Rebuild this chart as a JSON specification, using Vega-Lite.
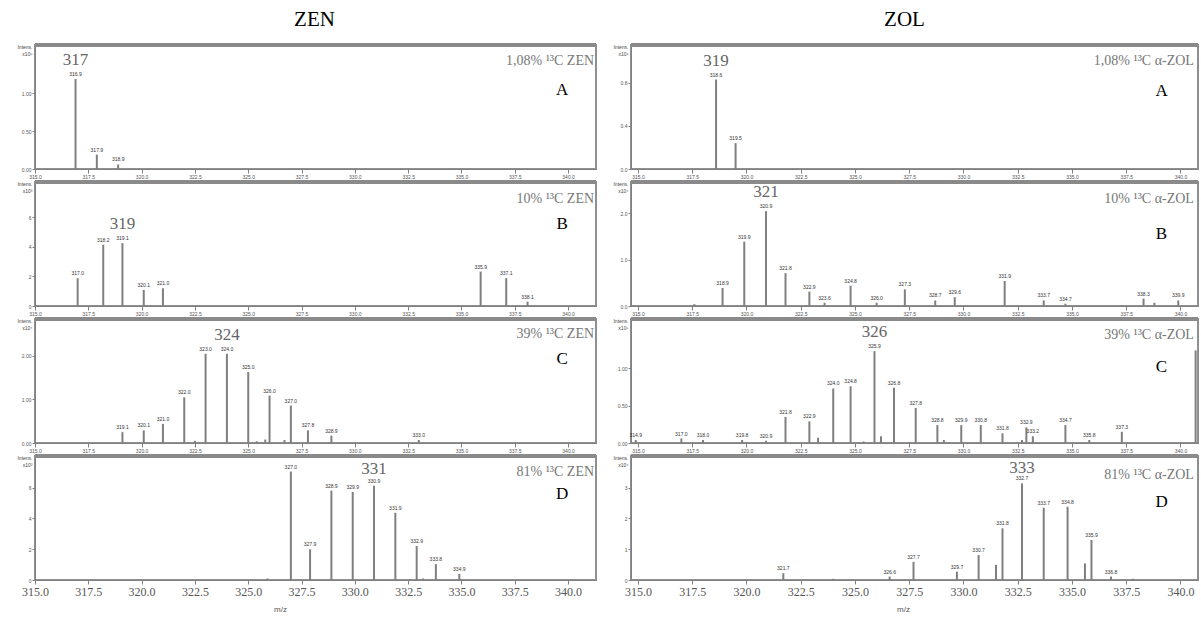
{
  "$schema": "https://vega.github.io/schema/vega-lite/v6.json",
  "background": "white",
  "padding": {"left": 15, "top": 8, "right": 0, "bottom": 0},
  "datasets": {
    "peaks": [
      {"panel": "ZEN A", "mz": 316.9, "intensity": 1.19, "tag": "316.9", "major": "317"},
      {"panel": "ZEN A", "mz": 317.9, "intensity": 0.19, "tag": "317.9"},
      {"panel": "ZEN A", "mz": 318.9, "intensity": 0.06, "tag": "318.9"},

      {"panel": "ZEN B", "mz": 317.0, "intensity": 1.88, "tag": "317.0"},
      {"panel": "ZEN B", "mz": 318.2, "intensity": 4.15, "tag": "318.2"},
      {"panel": "ZEN B", "mz": 319.1, "intensity": 4.26, "tag": "319.1", "major": "319"},
      {"panel": "ZEN B", "mz": 320.1, "intensity": 1.09, "tag": "320.1"},
      {"panel": "ZEN B", "mz": 321.0, "intensity": 1.2, "tag": "321.0"},
      {"panel": "ZEN B", "mz": 335.9, "intensity": 2.33, "tag": "335.9"},
      {"panel": "ZEN B", "mz": 337.1, "intensity": 1.88, "tag": "337.1"},
      {"panel": "ZEN B", "mz": 338.1, "intensity": 0.29, "tag": "338.1"},

      {"panel": "ZEN C", "mz": 319.1, "intensity": 0.25, "tag": "319.1"},
      {"panel": "ZEN C", "mz": 320.1, "intensity": 0.29, "tag": "320.1"},
      {"panel": "ZEN C", "mz": 321.0, "intensity": 0.44, "tag": "321.0"},
      {"panel": "ZEN C", "mz": 322.0, "intensity": 1.05, "tag": "322.0"},
      {"panel": "ZEN C", "mz": 322.5, "intensity": 0.05},
      {"panel": "ZEN C", "mz": 323.0, "intensity": 2.05, "tag": "323.0"},
      {"panel": "ZEN C", "mz": 324.0, "intensity": 2.05, "tag": "324.0", "major": "324"},
      {"panel": "ZEN C", "mz": 325.0, "intensity": 1.63, "tag": "325.0"},
      {"panel": "ZEN C", "mz": 325.4, "intensity": 0.04},
      {"panel": "ZEN C", "mz": 325.8, "intensity": 0.08},
      {"panel": "ZEN C", "mz": 326.0, "intensity": 1.09, "tag": "326.0"},
      {"panel": "ZEN C", "mz": 326.7, "intensity": 0.07},
      {"panel": "ZEN C", "mz": 327.0, "intensity": 0.86, "tag": "327.0"},
      {"panel": "ZEN C", "mz": 327.8, "intensity": 0.29, "tag": "327.8"},
      {"panel": "ZEN C", "mz": 328.9, "intensity": 0.17, "tag": "328.9"},
      {"panel": "ZEN C", "mz": 333.0, "intensity": 0.07, "tag": "333.0"},

      {"panel": "ZEN D", "mz": 325.9, "intensity": 0.1},
      {"panel": "ZEN D", "mz": 327.0, "intensity": 7.05, "tag": "327.0"},
      {"panel": "ZEN D", "mz": 327.9, "intensity": 2.0, "tag": "327.9"},
      {"panel": "ZEN D", "mz": 328.9, "intensity": 5.81, "tag": "328.9"},
      {"panel": "ZEN D", "mz": 329.9, "intensity": 5.72, "tag": "329.9"},
      {"panel": "ZEN D", "mz": 330.9, "intensity": 6.13, "tag": "330.9", "major": "331"},
      {"panel": "ZEN D", "mz": 331.9, "intensity": 4.37, "tag": "331.9"},
      {"panel": "ZEN D", "mz": 332.9, "intensity": 2.21, "tag": "332.9"},
      {"panel": "ZEN D", "mz": 333.2, "intensity": 0.1},
      {"panel": "ZEN D", "mz": 333.8, "intensity": 1.03, "tag": "333.8"},
      {"panel": "ZEN D", "mz": 334.9, "intensity": 0.39, "tag": "334.9"},

      {"panel": "ZOL A", "mz": 318.6, "intensity": 0.83, "tag": "318.6", "major": "319"},
      {"panel": "ZOL A", "mz": 319.5, "intensity": 0.24, "tag": "319.5"},

      {"panel": "ZOL B", "mz": 317.6, "intensity": 0.04},
      {"panel": "ZOL B", "mz": 318.9, "intensity": 0.39, "tag": "318.9"},
      {"panel": "ZOL B", "mz": 319.9, "intensity": 1.39, "tag": "319.9"},
      {"panel": "ZOL B", "mz": 320.9, "intensity": 2.05, "tag": "320.9", "major": "321"},
      {"panel": "ZOL B", "mz": 321.8, "intensity": 0.71, "tag": "321.8"},
      {"panel": "ZOL B", "mz": 322.9, "intensity": 0.31, "tag": "322.9"},
      {"panel": "ZOL B", "mz": 323.6, "intensity": 0.07, "tag": "323.6"},
      {"panel": "ZOL B", "mz": 324.8, "intensity": 0.44, "tag": "324.8"},
      {"panel": "ZOL B", "mz": 326.0, "intensity": 0.07, "tag": "326.0"},
      {"panel": "ZOL B", "mz": 327.3, "intensity": 0.36, "tag": "327.3"},
      {"panel": "ZOL B", "mz": 328.7, "intensity": 0.12, "tag": "328.7"},
      {"panel": "ZOL B", "mz": 329.6, "intensity": 0.19, "tag": "329.6"},
      {"panel": "ZOL B", "mz": 331.9, "intensity": 0.54, "tag": "331.9"},
      {"panel": "ZOL B", "mz": 333.7, "intensity": 0.12, "tag": "333.7"},
      {"panel": "ZOL B", "mz": 334.7, "intensity": 0.05, "tag": "334.7"},
      {"panel": "ZOL B", "mz": 338.3, "intensity": 0.16, "tag": "338.3"},
      {"panel": "ZOL B", "mz": 338.8, "intensity": 0.07},
      {"panel": "ZOL B", "mz": 339.9, "intensity": 0.12, "tag": "339.9"},

      {"panel": "ZOL C", "mz": 314.9, "intensity": 0.04, "tag": "314.9"},
      {"panel": "ZOL C", "mz": 317.0, "intensity": 0.06, "tag": "317.0"},
      {"panel": "ZOL C", "mz": 318.0, "intensity": 0.04, "tag": "318.0"},
      {"panel": "ZOL C", "mz": 319.8, "intensity": 0.04, "tag": "319.8"},
      {"panel": "ZOL C", "mz": 320.9, "intensity": 0.03, "tag": "320.9"},
      {"panel": "ZOL C", "mz": 321.8, "intensity": 0.35, "tag": "321.8"},
      {"panel": "ZOL C", "mz": 322.9, "intensity": 0.29, "tag": "322.9"},
      {"panel": "ZOL C", "mz": 323.3, "intensity": 0.07},
      {"panel": "ZOL C", "mz": 324.0, "intensity": 0.73, "tag": "324.0"},
      {"panel": "ZOL C", "mz": 324.8, "intensity": 0.76, "tag": "324.8"},
      {"panel": "ZOL C", "mz": 325.4, "intensity": 0.02},
      {"panel": "ZOL C", "mz": 325.9, "intensity": 1.23, "tag": "325.9", "major": "326"},
      {"panel": "ZOL C", "mz": 326.2, "intensity": 0.09},
      {"panel": "ZOL C", "mz": 326.8, "intensity": 0.74, "tag": "326.8"},
      {"panel": "ZOL C", "mz": 327.8, "intensity": 0.47, "tag": "327.8"},
      {"panel": "ZOL C", "mz": 328.8, "intensity": 0.24, "tag": "328.8"},
      {"panel": "ZOL C", "mz": 329.1, "intensity": 0.04},
      {"panel": "ZOL C", "mz": 329.9, "intensity": 0.24, "tag": "329.9"},
      {"panel": "ZOL C", "mz": 330.8, "intensity": 0.24, "tag": "330.8"},
      {"panel": "ZOL C", "mz": 331.8, "intensity": 0.13, "tag": "331.8"},
      {"panel": "ZOL C", "mz": 332.7, "intensity": 0.04},
      {"panel": "ZOL C", "mz": 332.9, "intensity": 0.21, "tag": "332.9"},
      {"panel": "ZOL C", "mz": 333.2, "intensity": 0.09, "tag": "333.2"},
      {"panel": "ZOL C", "mz": 334.7, "intensity": 0.24, "tag": "334.7"},
      {"panel": "ZOL C", "mz": 335.8, "intensity": 0.04, "tag": "335.8"},
      {"panel": "ZOL C", "mz": 337.3, "intensity": 0.15, "tag": "337.3"},
      {"panel": "ZOL C", "mz": 340.7, "intensity": 1.24},

      {"panel": "ZOL D", "mz": 321.7, "intensity": 0.22, "tag": "321.7"},
      {"panel": "ZOL D", "mz": 324.0, "intensity": 0.04},
      {"panel": "ZOL D", "mz": 326.6, "intensity": 0.11, "tag": "326.6"},
      {"panel": "ZOL D", "mz": 327.7, "intensity": 0.59, "tag": "327.7"},
      {"panel": "ZOL D", "mz": 329.7, "intensity": 0.27, "tag": "329.7"},
      {"panel": "ZOL D", "mz": 330.7, "intensity": 0.81, "tag": "330.7"},
      {"panel": "ZOL D", "mz": 331.5, "intensity": 0.49},
      {"panel": "ZOL D", "mz": 331.8, "intensity": 1.68, "tag": "331.8"},
      {"panel": "ZOL D", "mz": 332.7, "intensity": 3.14, "tag": "332.7", "major": "333"},
      {"panel": "ZOL D", "mz": 333.7, "intensity": 2.35, "tag": "333.7"},
      {"panel": "ZOL D", "mz": 334.8, "intensity": 2.38, "tag": "334.8"},
      {"panel": "ZOL D", "mz": 335.6, "intensity": 0.54},
      {"panel": "ZOL D", "mz": 335.9, "intensity": 1.3, "tag": "335.9"},
      {"panel": "ZOL D", "mz": 336.8, "intensity": 0.11, "tag": "336.8"},
      {"panel": "ZOL D", "mz": 337.8, "intensity": 0.04}
    ],
    "notes": [
      {"panel": "ZEN A", "desc": "1,08% ¹³C ZEN", "letter": "A"},
      {"panel": "ZEN B", "desc": "10% ¹³C ZEN", "letter": "B"},
      {"panel": "ZEN C", "desc": "39% ¹³C ZEN", "letter": "C"},
      {"panel": "ZEN D", "desc": "81% ¹³C ZEN", "letter": "D"},
      {"panel": "ZOL A", "desc": "1,08% ¹³C α-ZOL", "letter": "A"},
      {"panel": "ZOL B", "desc": "10% ¹³C α-ZOL", "letter": "B"},
      {"panel": "ZOL C", "desc": "39% ¹³C α-ZOL", "letter": "C"},
      {"panel": "ZOL D", "desc": "81% ¹³C α-ZOL", "letter": "D"}
    ]
  },
  "spacing": 12,
  "hconcat": [
    {
      "title": {"text": "ZEN", "font": "Liberation Serif", "fontSize": 21, "fontWeight": "normal", "color": "#000", "anchor": "middle", "offset": 12, "dx": 7},
      "spacing": 13,
      "bounds": "flush",
      "vconcat": [
        {
          "width": 561, "height": 124,
          "resolve": {"axis": {"x": "independent"}},
          "layer": [
            {"data": {"name": "peaks"}, "transform": [{"filter": "datum.panel === 'ZEN A'"}],
             "mark": {"type": "rule", "color": "#7f7f7f", "strokeWidth": 2},
             "encoding": {
               "x": {"field": "mz", "type": "quantitative", "scale": {"domain": [315, 341.31], "nice": false, "zero": false},
                     "axis": {"title": null, "values": [315, 317.5, 320, 322.5, 325, 327.5, 330, 332.5, 335, 337.5, 340], "format": ".1f", "labelFontSize": 5, "labelPadding": 1, "labelDx": 3, "labelFlush": false, "labelOverlap": false, "tickSize": 4}},
               "y": {"field": "intensity", "type": "quantitative", "scale": {"domain": [0, 1.64], "nice": false},
                     "axis": {"title": ["Intens.", "x10⁵"], "titleAngle": 0, "titleAlign": "right", "titleBaseline": "top", "titleX": -3, "titleY": -1, "titleFontSize": 5, "titleFontWeight": "normal", "titleColor": "#444", "values": [0, 0.25, 0.5, 0.75, 1, 1.25], "format": ".2f", "labelFontSize": 5, "labelPadding": 1, "tickSize": 3}},
               "y2": {"datum": 0}
             }},
            {"data": {"name": "peaks"}, "transform": [{"filter": "datum.panel === 'ZEN A' && datum.tag != null"}],
             "mark": {"type": "text", "fontSize": 5, "baseline": "bottom", "dy": -2, "color": "#333"},
             "encoding": {"x": {"field": "mz", "type": "quantitative", "axis": {"title": null, "values": [315,315.5,316,316.5,317,317.5,318,318.5,319,319.5,320,320.5,321,321.5,322,322.5,323,323.5,324,324.5,325,325.5,326,326.5,327,327.5,328,328.5,329,329.5,330,330.5,331,331.5,332,332.5,333,333.5,334,334.5,335,335.5,336,336.5,337,337.5,338,338.5,339,339.5,340,340.5,341], "labels": false, "domain": false, "tickSize": 2}}, "y": {"field": "intensity", "type": "quantitative"}, "text": {"field": "tag"}}},
            {"data": {"name": "peaks"}, "transform": [{"filter": "datum.panel === 'ZEN A' && datum.major != null"}],
             "mark": {"type": "text", "font": "Liberation Serif", "fontSize": 17, "baseline": "middle", "dy": -19, "color": "#666"},
             "encoding": {"x": {"field": "mz", "type": "quantitative", "axis": null}, "y": {"field": "intensity", "type": "quantitative"}, "text": {"field": "major"}}},
            {"data": {"name": "notes"}, "transform": [{"filter": "datum.panel === 'ZEN A'"}],
             "mark": {"type": "rule", "color": "#8a8a8a", "strokeWidth": 4},
             "encoding": {"y": {"datum": 1.64, "type": "quantitative"}}},
            {"data": {"name": "notes"}, "transform": [{"filter": "datum.panel === 'ZEN A'"}],
             "mark": {"type": "text", "font": "Liberation Serif", "fontSize": 14, "align": "right", "baseline": "middle", "color": "#777"},
             "encoding": {"x": {"datum": 341.22, "type": "quantitative", "axis": null}, "y": {"datum": 1.428, "type": "quantitative"}, "text": {"field": "desc"}}},
            {"data": {"name": "notes"}, "transform": [{"filter": "datum.panel === 'ZEN A'"}],
             "mark": {"type": "text", "font": "Liberation Serif", "fontSize": 17, "align": "center", "baseline": "middle", "color": "#000"},
             "encoding": {"x": {"datum": 339.72, "type": "quantitative", "axis": null}, "y": {"datum": 1.045, "type": "quantitative"}, "text": {"field": "letter"}}}
          ]
        },
        {
          "width": 561, "height": 124,
          "resolve": {"axis": {"x": "independent"}},
          "layer": [
            {"data": {"name": "peaks"}, "transform": [{"filter": "datum.panel === 'ZEN B'"}],
             "mark": {"type": "rule", "color": "#7f7f7f", "strokeWidth": 2},
             "encoding": {
               "x": {"field": "mz", "type": "quantitative", "scale": {"domain": [315, 341.31], "nice": false, "zero": false},
                     "axis": {"title": null, "values": [315, 317.5, 320, 322.5, 325, 327.5, 330, 332.5, 335, 337.5, 340], "format": ".1f", "labelFontSize": 5, "labelPadding": 1, "labelDx": 3, "labelFlush": false, "labelOverlap": false, "tickSize": 4}},
               "y": {"field": "intensity", "type": "quantitative", "scale": {"domain": [0, 8.4], "nice": false},
                     "axis": {"title": ["Intens.", "x10³"], "titleAngle": 0, "titleAlign": "right", "titleBaseline": "top", "titleX": -3, "titleY": -1, "titleFontSize": 5, "titleFontWeight": "normal", "titleColor": "#444", "values": [0, 2, 4, 6], "format": "d", "labelFontSize": 5, "labelPadding": 1, "tickSize": 3}},
               "y2": {"datum": 0}
             }},
            {"data": {"name": "peaks"}, "transform": [{"filter": "datum.panel === 'ZEN B' && datum.tag != null"}],
             "mark": {"type": "text", "fontSize": 5, "baseline": "bottom", "dy": -2, "color": "#333"},
             "encoding": {"x": {"field": "mz", "type": "quantitative", "axis": {"title": null, "values": [315,315.5,316,316.5,317,317.5,318,318.5,319,319.5,320,320.5,321,321.5,322,322.5,323,323.5,324,324.5,325,325.5,326,326.5,327,327.5,328,328.5,329,329.5,330,330.5,331,331.5,332,332.5,333,333.5,334,334.5,335,335.5,336,336.5,337,337.5,338,338.5,339,339.5,340,340.5,341], "labels": false, "domain": false, "tickSize": 2}}, "y": {"field": "intensity", "type": "quantitative"}, "text": {"field": "tag"}}},
            {"data": {"name": "peaks"}, "transform": [{"filter": "datum.panel === 'ZEN B' && datum.major != null"}],
             "mark": {"type": "text", "font": "Liberation Serif", "fontSize": 17, "baseline": "middle", "dy": -19, "color": "#666"},
             "encoding": {"x": {"field": "mz", "type": "quantitative", "axis": null}, "y": {"field": "intensity", "type": "quantitative"}, "text": {"field": "major"}}},
            {"data": {"name": "notes"}, "transform": [{"filter": "datum.panel === 'ZEN B'"}],
             "mark": {"type": "rule", "color": "#8a8a8a", "strokeWidth": 4},
             "encoding": {"y": {"datum": 8.4, "type": "quantitative"}}},
            {"data": {"name": "notes"}, "transform": [{"filter": "datum.panel === 'ZEN B'"}],
             "mark": {"type": "text", "font": "Liberation Serif", "fontSize": 14, "align": "right", "baseline": "middle", "color": "#777"},
             "encoding": {"x": {"datum": 341.22, "type": "quantitative", "axis": null}, "y": {"datum": 7.25, "type": "quantitative"}, "text": {"field": "desc"}}},
            {"data": {"name": "notes"}, "transform": [{"filter": "datum.panel === 'ZEN B'"}],
             "mark": {"type": "text", "font": "Liberation Serif", "fontSize": 17, "align": "center", "baseline": "middle", "color": "#000"},
             "encoding": {"x": {"datum": 339.72, "type": "quantitative", "axis": null}, "y": {"datum": 5.55, "type": "quantitative"}, "text": {"field": "letter"}}}
          ]
        },
        {
          "width": 561, "height": 124,
          "resolve": {"axis": {"x": "independent"}},
          "layer": [
            {"data": {"name": "peaks"}, "transform": [{"filter": "datum.panel === 'ZEN C'"}],
             "mark": {"type": "rule", "color": "#7f7f7f", "strokeWidth": 2},
             "encoding": {
               "x": {"field": "mz", "type": "quantitative", "scale": {"domain": [315, 341.31], "nice": false, "zero": false},
                     "axis": {"title": null, "values": [315, 317.5, 320, 322.5, 325, 327.5, 330, 332.5, 335, 337.5, 340], "format": ".1f", "labelFontSize": 5, "labelPadding": 1, "labelDx": 3, "labelFlush": false, "labelOverlap": false, "tickSize": 4}},
               "y": {"field": "intensity", "type": "quantitative", "scale": {"domain": [0, 2.85], "nice": false},
                     "axis": {"title": ["Intens.", "x10⁴"], "titleAngle": 0, "titleAlign": "right", "titleBaseline": "top", "titleX": -3, "titleY": -1, "titleFontSize": 5, "titleFontWeight": "normal", "titleColor": "#444", "values": [0, 0.5, 1, 1.5, 2], "format": ".2f", "labelFontSize": 5, "labelPadding": 1, "tickSize": 3}},
               "y2": {"datum": 0}
             }},
            {"data": {"name": "peaks"}, "transform": [{"filter": "datum.panel === 'ZEN C' && datum.tag != null"}],
             "mark": {"type": "text", "fontSize": 5, "baseline": "bottom", "dy": -2, "color": "#333"},
             "encoding": {"x": {"field": "mz", "type": "quantitative", "axis": {"title": null, "values": [315,315.5,316,316.5,317,317.5,318,318.5,319,319.5,320,320.5,321,321.5,322,322.5,323,323.5,324,324.5,325,325.5,326,326.5,327,327.5,328,328.5,329,329.5,330,330.5,331,331.5,332,332.5,333,333.5,334,334.5,335,335.5,336,336.5,337,337.5,338,338.5,339,339.5,340,340.5,341], "labels": false, "domain": false, "tickSize": 2}}, "y": {"field": "intensity", "type": "quantitative"}, "text": {"field": "tag"}}},
            {"data": {"name": "peaks"}, "transform": [{"filter": "datum.panel === 'ZEN C' && datum.major != null"}],
             "mark": {"type": "text", "font": "Liberation Serif", "fontSize": 17, "baseline": "middle", "dy": -19, "color": "#666"},
             "encoding": {"x": {"field": "mz", "type": "quantitative", "axis": null}, "y": {"field": "intensity", "type": "quantitative"}, "text": {"field": "major"}}},
            {"data": {"name": "notes"}, "transform": [{"filter": "datum.panel === 'ZEN C'"}],
             "mark": {"type": "rule", "color": "#8a8a8a", "strokeWidth": 4},
             "encoding": {"y": {"datum": 2.85, "type": "quantitative"}}},
            {"data": {"name": "notes"}, "transform": [{"filter": "datum.panel === 'ZEN C'"}],
             "mark": {"type": "text", "font": "Liberation Serif", "fontSize": 14, "align": "right", "baseline": "middle", "color": "#777"},
             "encoding": {"x": {"datum": 341.22, "type": "quantitative", "axis": null}, "y": {"datum": 2.505, "type": "quantitative"}, "text": {"field": "desc"}}},
            {"data": {"name": "notes"}, "transform": [{"filter": "datum.panel === 'ZEN C'"}],
             "mark": {"type": "text", "font": "Liberation Serif", "fontSize": 17, "align": "center", "baseline": "middle", "color": "#000"},
             "encoding": {"x": {"datum": 339.72, "type": "quantitative", "axis": null}, "y": {"datum": 1.93, "type": "quantitative"}, "text": {"field": "letter"}}}
          ]
        },
        {
          "width": 561, "height": 124,
          "resolve": {"axis": {"x": "independent"}},
          "layer": [
            {"data": {"name": "peaks"}, "transform": [{"filter": "datum.panel === 'ZEN D'"}],
             "mark": {"type": "rule", "color": "#7f7f7f", "strokeWidth": 2},
             "encoding": {
               "x": {"field": "mz", "type": "quantitative", "scale": {"domain": [315, 341.31], "nice": false, "zero": false},
                     "axis": {"title": "m/z", "titleFontSize": 8, "titleFontWeight": "normal", "titleColor": "#555", "titleX": 245, "titleY": 29, "titleAlign": "center", "titleBaseline": "middle", "values": [315, 317.5, 320, 322.5, 325, 327.5, 330, 332.5, 335, 337.5, 340], "format": ".1f", "labelFont": "Liberation Serif", "labelFontSize": 12, "labelPadding": 2, "labelDx": 5, "labelFlush": false, "labelOverlap": false, "tickSize": 4}},
               "y": {"field": "intensity", "type": "quantitative", "scale": {"domain": [0, 8.06], "nice": false},
                     "axis": {"title": ["Intens.", "x10³"], "titleAngle": 0, "titleAlign": "right", "titleBaseline": "top", "titleX": -3, "titleY": -1, "titleFontSize": 5, "titleFontWeight": "normal", "titleColor": "#444", "values": [0, 2, 4, 6], "format": "d", "labelFontSize": 5, "labelPadding": 1, "tickSize": 3}},
               "y2": {"datum": 0}
             }},
            {"data": {"name": "peaks"}, "transform": [{"filter": "datum.panel === 'ZEN D' && datum.tag != null"}],
             "mark": {"type": "text", "fontSize": 5, "baseline": "bottom", "dy": -2, "color": "#333"},
             "encoding": {"x": {"field": "mz", "type": "quantitative", "axis": {"title": null, "values": [315,315.5,316,316.5,317,317.5,318,318.5,319,319.5,320,320.5,321,321.5,322,322.5,323,323.5,324,324.5,325,325.5,326,326.5,327,327.5,328,328.5,329,329.5,330,330.5,331,331.5,332,332.5,333,333.5,334,334.5,335,335.5,336,336.5,337,337.5,338,338.5,339,339.5,340,340.5,341], "labels": false, "domain": false, "tickSize": 2}}, "y": {"field": "intensity", "type": "quantitative"}, "text": {"field": "tag"}}},
            {"data": {"name": "peaks"}, "transform": [{"filter": "datum.panel === 'ZEN D' && datum.major != null"}],
             "mark": {"type": "text", "font": "Liberation Serif", "fontSize": 17, "baseline": "middle", "dy": -17, "color": "#666"},
             "encoding": {"x": {"field": "mz", "type": "quantitative", "axis": null}, "y": {"field": "intensity", "type": "quantitative"}, "text": {"field": "major"}}},
            {"data": {"name": "notes"}, "transform": [{"filter": "datum.panel === 'ZEN D'"}],
             "mark": {"type": "rule", "color": "#8a8a8a", "strokeWidth": 4},
             "encoding": {"y": {"datum": 8.06, "type": "quantitative"}}},
            {"data": {"name": "notes"}, "transform": [{"filter": "datum.panel === 'ZEN D'"}],
             "mark": {"type": "text", "font": "Liberation Serif", "fontSize": 14, "align": "right", "baseline": "middle", "color": "#777"},
             "encoding": {"x": {"datum": 341.22, "type": "quantitative", "axis": null}, "y": {"datum": 7.02, "type": "quantitative"}, "text": {"field": "desc"}}},
            {"data": {"name": "notes"}, "transform": [{"filter": "datum.panel === 'ZEN D'"}],
             "mark": {"type": "text", "font": "Liberation Serif", "fontSize": 17, "align": "center", "baseline": "middle", "color": "#000"},
             "encoding": {"x": {"datum": 339.72, "type": "quantitative", "axis": null}, "y": {"datum": 5.59, "type": "quantitative"}, "text": {"field": "letter"}}}
          ]
        }
      ]
    },
    {
      "title": {"text": "ZOL", "font": "Liberation Serif", "fontSize": 21, "fontWeight": "normal", "color": "#000", "anchor": "middle", "offset": 12, "dx": -2},
      "spacing": 13,
      "bounds": "flush",
      "vconcat": [
        {
          "width": 567, "height": 124,
          "resolve": {"axis": {"x": "independent"}},
          "layer": [
            {"data": {"name": "peaks"}, "transform": [{"filter": "datum.panel === 'ZOL A'"}],
             "mark": {"type": "rule", "color": "#7f7f7f", "strokeWidth": 2},
             "encoding": {
               "x": {"field": "mz", "type": "quantitative", "scale": {"domain": [314.68, 340.81], "nice": false, "zero": false},
                     "axis": {"title": null, "values": [315, 317.5, 320, 322.5, 325, 327.5, 330, 332.5, 335, 337.5, 340], "format": ".1f", "labelFontSize": 5, "labelPadding": 1, "labelDx": 3, "labelFlush": false, "labelOverlap": false, "tickSize": 4}},
               "y": {"field": "intensity", "type": "quantitative", "scale": {"domain": [0, 1.15], "nice": false},
                     "axis": {"title": ["Intens.", "x10⁶"], "titleAngle": 0, "titleAlign": "right", "titleBaseline": "top", "titleX": -3, "titleY": -1, "titleFontSize": 5, "titleFontWeight": "normal", "titleColor": "#444", "values": [0, 0.2, 0.4, 0.6, 0.8, 1.0], "format": ".1f", "labelFontSize": 5, "labelPadding": 1, "tickSize": 3}},
               "y2": {"datum": 0}
             }},
            {"data": {"name": "peaks"}, "transform": [{"filter": "datum.panel === 'ZOL A' && datum.tag != null"}],
             "mark": {"type": "text", "fontSize": 5, "baseline": "bottom", "dy": -2, "color": "#333"},
             "encoding": {"x": {"field": "mz", "type": "quantitative", "axis": {"title": null, "values": [315,315.5,316,316.5,317,317.5,318,318.5,319,319.5,320,320.5,321,321.5,322,322.5,323,323.5,324,324.5,325,325.5,326,326.5,327,327.5,328,328.5,329,329.5,330,330.5,331,331.5,332,332.5,333,333.5,334,334.5,335,335.5,336,336.5,337,337.5,338,338.5,339,339.5,340,340.5], "labels": false, "domain": false, "tickSize": 2}}, "y": {"field": "intensity", "type": "quantitative"}, "text": {"field": "tag"}}},
            {"data": {"name": "peaks"}, "transform": [{"filter": "datum.panel === 'ZOL A' && datum.major != null"}],
             "mark": {"type": "text", "font": "Liberation Serif", "fontSize": 17, "baseline": "middle", "dy": -19, "color": "#666"},
             "encoding": {"x": {"field": "mz", "type": "quantitative", "axis": null}, "y": {"field": "intensity", "type": "quantitative"}, "text": {"field": "major"}}},
            {"data": {"name": "notes"}, "transform": [{"filter": "datum.panel === 'ZOL A'"}],
             "mark": {"type": "rule", "color": "#8a8a8a", "strokeWidth": 4},
             "encoding": {"y": {"datum": 1.15, "type": "quantitative"}}},
            {"data": {"name": "notes"}, "transform": [{"filter": "datum.panel === 'ZOL A'"}],
             "mark": {"type": "text", "font": "Liberation Serif", "fontSize": 14, "align": "right", "baseline": "middle", "color": "#777"},
             "encoding": {"x": {"datum": 340.62, "type": "quantitative", "axis": null}, "y": {"datum": 1.0, "type": "quantitative"}, "text": {"field": "desc"}}},
            {"data": {"name": "notes"}, "transform": [{"filter": "datum.panel === 'ZOL A'"}],
             "mark": {"type": "text", "font": "Liberation Serif", "fontSize": 17, "align": "center", "baseline": "middle", "color": "#000"},
             "encoding": {"x": {"datum": 339.13, "type": "quantitative", "axis": null}, "y": {"datum": 0.723, "type": "quantitative"}, "text": {"field": "letter"}}}
          ]
        },
        {
          "width": 567, "height": 124,
          "resolve": {"axis": {"x": "independent"}},
          "layer": [
            {"data": {"name": "peaks"}, "transform": [{"filter": "datum.panel === 'ZOL B'"}],
             "mark": {"type": "rule", "color": "#7f7f7f", "strokeWidth": 2},
             "encoding": {
               "x": {"field": "mz", "type": "quantitative", "scale": {"domain": [314.68, 340.81], "nice": false, "zero": false},
                     "axis": {"title": null, "values": [315, 317.5, 320, 322.5, 325, 327.5, 330, 332.5, 335, 337.5, 340], "format": ".1f", "labelFontSize": 5, "labelPadding": 1, "labelDx": 3, "labelFlush": false, "labelOverlap": false, "tickSize": 4}},
               "y": {"field": "intensity", "type": "quantitative", "scale": {"domain": [0, 2.68], "nice": false},
                     "axis": {"title": ["Intens.", "x10⁴"], "titleAngle": 0, "titleAlign": "right", "titleBaseline": "top", "titleX": -3, "titleY": -1, "titleFontSize": 5, "titleFontWeight": "normal", "titleColor": "#444", "values": [0, 0.5, 1, 1.5, 2], "format": ".1f", "labelFontSize": 5, "labelPadding": 1, "tickSize": 3}},
               "y2": {"datum": 0}
             }},
            {"data": {"name": "peaks"}, "transform": [{"filter": "datum.panel === 'ZOL B' && datum.tag != null"}],
             "mark": {"type": "text", "fontSize": 5, "baseline": "bottom", "dy": -2, "color": "#333"},
             "encoding": {"x": {"field": "mz", "type": "quantitative", "axis": {"title": null, "values": [315,315.5,316,316.5,317,317.5,318,318.5,319,319.5,320,320.5,321,321.5,322,322.5,323,323.5,324,324.5,325,325.5,326,326.5,327,327.5,328,328.5,329,329.5,330,330.5,331,331.5,332,332.5,333,333.5,334,334.5,335,335.5,336,336.5,337,337.5,338,338.5,339,339.5,340,340.5], "labels": false, "domain": false, "tickSize": 2}}, "y": {"field": "intensity", "type": "quantitative"}, "text": {"field": "tag"}}},
            {"data": {"name": "peaks"}, "transform": [{"filter": "datum.panel === 'ZOL B' && datum.major != null"}],
             "mark": {"type": "text", "font": "Liberation Serif", "fontSize": 17, "baseline": "middle", "dy": -19, "color": "#666"},
             "encoding": {"x": {"field": "mz", "type": "quantitative", "axis": null}, "y": {"field": "intensity", "type": "quantitative"}, "text": {"field": "major"}}},
            {"data": {"name": "notes"}, "transform": [{"filter": "datum.panel === 'ZOL B'"}],
             "mark": {"type": "rule", "color": "#8a8a8a", "strokeWidth": 4},
             "encoding": {"y": {"datum": 2.68, "type": "quantitative"}}},
            {"data": {"name": "notes"}, "transform": [{"filter": "datum.panel === 'ZOL B'"}],
             "mark": {"type": "text", "font": "Liberation Serif", "fontSize": 14, "align": "right", "baseline": "middle", "color": "#777"},
             "encoding": {"x": {"datum": 340.62, "type": "quantitative", "axis": null}, "y": {"datum": 2.31, "type": "quantitative"}, "text": {"field": "desc"}}},
            {"data": {"name": "notes"}, "transform": [{"filter": "datum.panel === 'ZOL B'"}],
             "mark": {"type": "text", "font": "Liberation Serif", "fontSize": 17, "align": "center", "baseline": "middle", "color": "#000"},
             "encoding": {"x": {"datum": 339.13, "type": "quantitative", "axis": null}, "y": {"datum": 1.556, "type": "quantitative"}, "text": {"field": "letter"}}}
          ]
        },
        {
          "width": 567, "height": 124,
          "resolve": {"axis": {"x": "independent"}},
          "layer": [
            {"data": {"name": "peaks"}, "transform": [{"filter": "datum.panel === 'ZOL C'"}],
             "mark": {"type": "rule", "color": "#7f7f7f", "strokeWidth": 2},
             "encoding": {
               "x": {"field": "mz", "type": "quantitative", "scale": {"domain": [314.68, 340.81], "nice": false, "zero": false},
                     "axis": {"title": null, "values": [315, 317.5, 320, 322.5, 325, 327.5, 330, 332.5, 335, 337.5, 340], "format": ".1f", "labelFontSize": 5, "labelPadding": 1, "labelDx": 3, "labelFlush": false, "labelOverlap": false, "tickSize": 4}},
               "y": {"field": "intensity", "type": "quantitative", "scale": {"domain": [0, 1.66], "nice": false},
                     "axis": {"title": ["Intens.", "x10⁵"], "titleAngle": 0, "titleAlign": "right", "titleBaseline": "top", "titleX": -3, "titleY": -1, "titleFontSize": 5, "titleFontWeight": "normal", "titleColor": "#444", "values": [0, 0.25, 0.5, 0.75, 1, 1.25], "format": ".2f", "labelFontSize": 5, "labelPadding": 1, "tickSize": 3}},
               "y2": {"datum": 0}
             }},
            {"data": {"name": "peaks"}, "transform": [{"filter": "datum.panel === 'ZOL C' && datum.tag != null"}],
             "mark": {"type": "text", "fontSize": 5, "baseline": "bottom", "dy": -2, "color": "#333"},
             "encoding": {"x": {"field": "mz", "type": "quantitative", "axis": {"title": null, "values": [315,315.5,316,316.5,317,317.5,318,318.5,319,319.5,320,320.5,321,321.5,322,322.5,323,323.5,324,324.5,325,325.5,326,326.5,327,327.5,328,328.5,329,329.5,330,330.5,331,331.5,332,332.5,333,333.5,334,334.5,335,335.5,336,336.5,337,337.5,338,338.5,339,339.5,340,340.5], "labels": false, "domain": false, "tickSize": 2}}, "y": {"field": "intensity", "type": "quantitative"}, "text": {"field": "tag"}}},
            {"data": {"name": "peaks"}, "transform": [{"filter": "datum.panel === 'ZOL C' && datum.major != null"}],
             "mark": {"type": "text", "font": "Liberation Serif", "fontSize": 17, "baseline": "middle", "dy": -19, "color": "#666"},
             "encoding": {"x": {"field": "mz", "type": "quantitative", "axis": null}, "y": {"field": "intensity", "type": "quantitative"}, "text": {"field": "major"}}},
            {"data": {"name": "notes"}, "transform": [{"filter": "datum.panel === 'ZOL C'"}],
             "mark": {"type": "rule", "color": "#8a8a8a", "strokeWidth": 4},
             "encoding": {"y": {"datum": 1.66, "type": "quantitative"}}},
            {"data": {"name": "notes"}, "transform": [{"filter": "datum.panel === 'ZOL C'"}],
             "mark": {"type": "text", "font": "Liberation Serif", "fontSize": 14, "align": "right", "baseline": "middle", "color": "#777"},
             "encoding": {"x": {"datum": 340.62, "type": "quantitative", "axis": null}, "y": {"datum": 1.446, "type": "quantitative"}, "text": {"field": "desc"}}},
            {"data": {"name": "notes"}, "transform": [{"filter": "datum.panel === 'ZOL C'"}],
             "mark": {"type": "text", "font": "Liberation Serif", "fontSize": 17, "align": "center", "baseline": "middle", "color": "#000"},
             "encoding": {"x": {"datum": 339.13, "type": "quantitative", "axis": null}, "y": {"datum": 1.017, "type": "quantitative"}, "text": {"field": "letter"}}}
          ]
        },
        {
          "width": 567, "height": 124,
          "resolve": {"axis": {"x": "independent"}},
          "layer": [
            {"data": {"name": "peaks"}, "transform": [{"filter": "datum.panel === 'ZOL D'"}],
             "mark": {"type": "rule", "color": "#7f7f7f", "strokeWidth": 2},
             "encoding": {
               "x": {"field": "mz", "type": "quantitative", "scale": {"domain": [314.68, 340.81], "nice": false, "zero": false},
                     "axis": {"title": "m/z", "titleFontSize": 8, "titleFontWeight": "normal", "titleColor": "#555", "titleX": 272, "titleY": 29, "titleAlign": "center", "titleBaseline": "middle", "values": [315, 317.5, 320, 322.5, 325, 327.5, 330, 332.5, 335, 337.5, 340], "format": ".1f", "labelFont": "Liberation Serif", "labelFontSize": 12, "labelPadding": 2, "labelDx": 2, "labelFlush": false, "labelOverlap": false, "tickSize": 4}},
               "y": {"field": "intensity", "type": "quantitative", "scale": {"domain": [0, 4.03], "nice": false},
                     "axis": {"title": ["Intens.", "x10⁴"], "titleAngle": 0, "titleAlign": "right", "titleBaseline": "top", "titleX": -3, "titleY": -1, "titleFontSize": 5, "titleFontWeight": "normal", "titleColor": "#444", "values": [0, 1, 2, 3], "format": "d", "labelFontSize": 5, "labelPadding": 1, "tickSize": 3}},
               "y2": {"datum": 0}
             }},
            {"data": {"name": "peaks"}, "transform": [{"filter": "datum.panel === 'ZOL D' && datum.tag != null"}],
             "mark": {"type": "text", "fontSize": 5, "baseline": "bottom", "dy": -2, "color": "#333"},
             "encoding": {"x": {"field": "mz", "type": "quantitative", "axis": {"title": null, "values": [315,315.5,316,316.5,317,317.5,318,318.5,319,319.5,320,320.5,321,321.5,322,322.5,323,323.5,324,324.5,325,325.5,326,326.5,327,327.5,328,328.5,329,329.5,330,330.5,331,331.5,332,332.5,333,333.5,334,334.5,335,335.5,336,336.5,337,337.5,338,338.5,339,339.5,340,340.5], "labels": false, "domain": false, "tickSize": 2}}, "y": {"field": "intensity", "type": "quantitative"}, "text": {"field": "tag"}}},
            {"data": {"name": "peaks"}, "transform": [{"filter": "datum.panel === 'ZOL D' && datum.major != null"}],
             "mark": {"type": "text", "font": "Liberation Serif", "fontSize": 17, "baseline": "middle", "dy": -15, "color": "#666"},
             "encoding": {"x": {"field": "mz", "type": "quantitative", "axis": null}, "y": {"field": "intensity", "type": "quantitative"}, "text": {"field": "major"}}},
            {"data": {"name": "notes"}, "transform": [{"filter": "datum.panel === 'ZOL D'"}],
             "mark": {"type": "rule", "color": "#8a8a8a", "strokeWidth": 4},
             "encoding": {"y": {"datum": 4.03, "type": "quantitative"}}},
            {"data": {"name": "notes"}, "transform": [{"filter": "datum.panel === 'ZOL D'"}],
             "mark": {"type": "text", "font": "Liberation Serif", "fontSize": 14, "align": "right", "baseline": "middle", "color": "#777"},
             "encoding": {"x": {"datum": 340.62, "type": "quantitative", "axis": null}, "y": {"datum": 3.41, "type": "quantitative"}, "text": {"field": "desc"}}},
            {"data": {"name": "notes"}, "transform": [{"filter": "datum.panel === 'ZOL D'"}],
             "mark": {"type": "text", "font": "Liberation Serif", "fontSize": 17, "align": "center", "baseline": "middle", "color": "#000"},
             "encoding": {"x": {"datum": 339.13, "type": "quantitative", "axis": null}, "y": {"datum": 2.535, "type": "quantitative"}, "text": {"field": "letter"}}}
          ]
        }
      ]
    }
  ],
  "config": {
    "view": {"stroke": "#8f8f8f", "strokeWidth": 2},
    "axis": {"grid": false, "domainColor": "#808080", "tickColor": "#808080", "labelColor": "#555", "labelFont": "Liberation Sans", "titleFont": "Liberation Sans"},
    "text": {"font": "Liberation Sans"}
  }
}
